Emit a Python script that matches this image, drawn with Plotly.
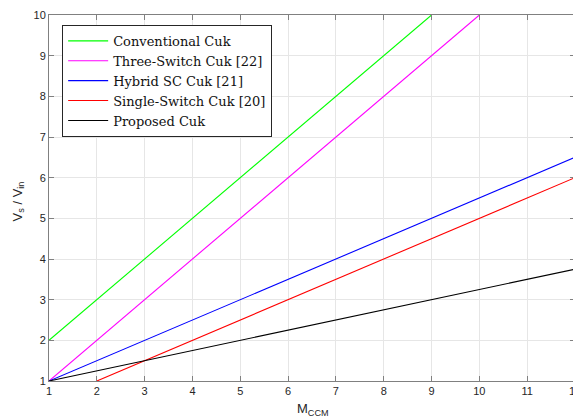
import plotly.graph_objects as go

m_ccm = [1, 2, 3, 4, 5, 6, 7, 8, 9, 10, 11, 12]
conventional_x = [1, 2, 3, 4, 5, 6, 7, 8, 9]
conventional_y = [2, 3, 4, 5, 6, 7, 8, 9, 10]
three_switch_x = [1, 2, 3, 4, 5, 6, 7, 8, 9, 10]
three_switch_y = [1, 2, 3, 4, 5, 6, 7, 8, 9, 10]
hybrid_y = [1, 1.5, 2, 2.5, 3, 3.5, 4, 4.5, 5, 5.5, 6, 6.5]
single_x = [2, 3, 4, 5, 6, 7, 8, 9, 10, 11, 12]
single_y = [1, 1.5, 2, 2.5, 3, 3.5, 4, 4.5, 5, 5.5, 6]
proposed_y = [1, 1.25, 1.5, 1.75, 2, 2.25, 2.5, 2.75, 3, 3.25, 3.5, 3.75]

x_ticks = list(range(1, 13))
y_ticks = list(range(1, 11))

fig = go.Figure()
fig.add_trace(go.Scatter(x=conventional_x, y=conventional_y, mode="lines",
                         name="Conventional Cuk", line=dict(color="#00FF00", width=1.1)))
fig.add_trace(go.Scatter(x=three_switch_x, y=three_switch_y, mode="lines",
                         name="Three-Switch Cuk [22]", line=dict(color="#FF00FF", width=1.1)))
fig.add_trace(go.Scatter(x=m_ccm, y=hybrid_y, mode="lines",
                         name="Hybrid SC Cuk [21]", line=dict(color="#0000FF", width=1.1)))
fig.add_trace(go.Scatter(x=single_x, y=single_y, mode="lines",
                         name="Single-Switch Cuk [20]", line=dict(color="#FF0000", width=1.1)))
fig.add_trace(go.Scatter(x=m_ccm, y=proposed_y, mode="lines",
                         name="Proposed Cuk", line=dict(color="#000000", width=1.1)))

tick_font = dict(family="Liberation Sans, Arial", size=11, color="#262626")
axis_common = dict(
    showgrid=True, gridcolor="#E6E6E6", gridwidth=1,
    showline=True, linecolor="#808080", linewidth=1, mirror="allticks",
    ticks="inside", ticklen=5, tickcolor="#808080",
    tickfont=tick_font, automargin=False, ticklabeloverflow="allow",
    zeroline=False,
)

fig.update_layout(
    width=573, height=409,
    margin=dict(l=41, r=6, t=7, b=36),
    paper_bgcolor="white", plot_bgcolor="white",
    xaxis=dict(range=[1, 12], tickvals=x_ticks, **axis_common),
    yaxis=dict(range=[1, 10], tickvals=y_ticks, **axis_common),
    legend=dict(x=0.025, y=0.973, xanchor="left", yanchor="top",
                bgcolor="white", bordercolor="#262626", borderwidth=1,
                font=dict(family="DejaVu Serif, Liberation Serif, serif", size=13, color="#111111"),
                tracegroupgap=0, itemwidth=40),
    showlegend=True,
    annotations=[
        dict(text="M<sub>CCM</sub>", xref="paper", yref="paper", x=0.502, y=-0.05,
             xanchor="center", yanchor="top", showarrow=False,
             font=dict(family="Liberation Sans, Arial", size=13, color="#262626")),
        dict(text="V<sub>s</sub> / V<sub>in</sub>", xref="paper", yref="paper", x=-0.078, y=0.492,
             xanchor="left", yanchor="middle", showarrow=False, textangle=-90,
             font=dict(family="Liberation Sans, Arial", size=13, color="#262626")),
    ],
)

fig.write_html("out.html")
